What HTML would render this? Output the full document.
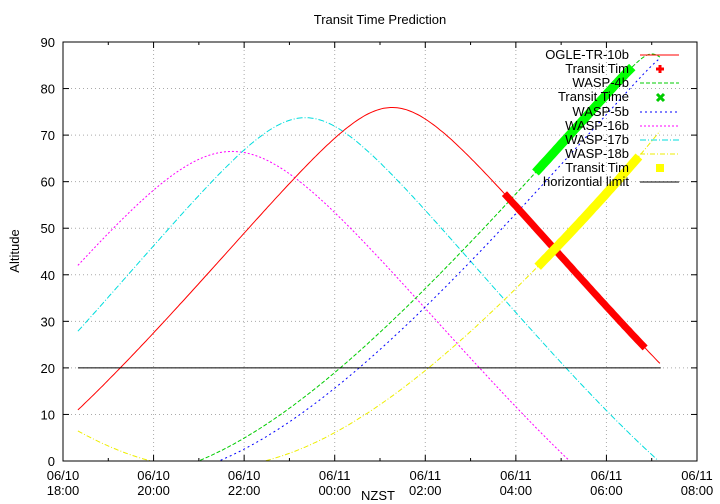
<!DOCTYPE html>
<html><head><meta charset="utf-8"><style>
html,body{margin:0;padding:0;background:#fff;}
svg{display:block;font-family:"Liberation Sans",sans-serif;}
</style></head><body>
<svg id="s" width="720" height="504" xmlns="http://www.w3.org/2000/svg">
<rect width="720" height="504" fill="#fff"/>
<text x="380" y="24" font-size="13" text-anchor="middle">Transit Time Prediction</text>
<text transform="translate(19,251) rotate(-90)" font-size="13" text-anchor="middle">Altitude</text>
<text x="378" y="500" font-size="13" text-anchor="middle">NZST</text>
<g id="g"></g>
</svg>
<script>
var X0=63,X1=697,Y0=461,Y1=42;
function px(h){return X0+(h-18)*(X1-X0)/14;}
function py(a){return Y0-a*(Y0-Y1)/90;}
var out='';
for(var i=1;i<7;i++){var x=px(18+2*i);out+='<line x1="'+x+'" y1="'+Y1+'" x2="'+x+'" y2="'+Y0+'" stroke="#aaa" stroke-width="1" stroke-dasharray="1,3"/>';}
for(var a=10;a<90;a+=10){var y=py(a);out+='<line x1="'+X0+'" y1="'+y+'" x2="'+X1+'" y2="'+y+'" stroke="#aaa" stroke-width="1" stroke-dasharray="1,3"/>';}
var hl=['18:00','20:00','22:00','00:00','02:00','04:00','06:00','08:00'];
var dl=['06/10','06/10','06/10','06/11','06/11','06/11','06/11','06/11'];
for(var i=0;i<8;i++){var x=px(18+2*i);
out+='<line x1="'+x+'" y1="'+Y0+'" x2="'+x+'" y2="'+(Y0-6)+'" stroke="#000"/><line x1="'+x+'" y1="'+Y1+'" x2="'+x+'" y2="'+(Y1+6)+'" stroke="#000"/>';
out+='<text x="'+x+'" y="480" font-size="13" text-anchor="middle">'+dl[i]+'</text><text x="'+x+'" y="495" font-size="13" text-anchor="middle">'+hl[i]+'</text>';
if(i<7){var xm=px(19+2*i);out+='<line x1="'+xm+'" y1="'+Y0+'" x2="'+xm+'" y2="'+(Y0-3)+'" stroke="#000"/><line x1="'+xm+'" y1="'+Y1+'" x2="'+xm+'" y2="'+(Y1+3)+'" stroke="#000"/>';}}
for(var a=0;a<=90;a+=10){var y=py(a);
out+='<line x1="'+X0+'" y1="'+y+'" x2="'+(X0+6)+'" y2="'+y+'" stroke="#000"/><line x1="'+X1+'" y1="'+y+'" x2="'+(X1-6)+'" y2="'+y+'" stroke="#000"/>';
out+='<text x="'+(X0-8)+'" y="'+(y+5)+'" font-size="13" text-anchor="end">'+a+'</text>';}
function alt(p,h){var v=p.a+p.b*Math.cos((h-p.h0)*15*Math.PI/180);v=Math.max(-1,Math.min(1,v));return Math.asin(v)*180/Math.PI;}
function curve(p,h0,h1,col,dash,w){var pts=[];for(var h=h0;h<=h1+1e-9;h+=0.05){var a=alt(p,h);if(a<0){if(pts.length>1)out+='<polyline points="'+pts.join(' ')+'" fill="none" stroke="'+col+'" stroke-width="'+w+'" stroke-dasharray="'+dash+'"/>';pts=[];continue;}pts.push(px(h).toFixed(1)+','+py(a).toFixed(1));}
if(pts.length>1)out+='<polyline points="'+pts.join(' ')+'" fill="none" stroke="'+col+'" stroke-width="'+w+'" stroke-dasharray="'+dash+'" stroke-linecap="'+(w>2?'square':'butt')+'"/>';}
var HS=18.33,HE=31.2;
var R={a:0.343,b:0.627,h0:25.27},C={a:0.30,b:0.66,h0:23.35},M={a:0.249,b:0.668,h0:21.73},
G={a:0.464,b:0.535,h0:31.0},B={a:0.462,b:0.537,h0:31.4},Yy={a:0.494,b:0.522,h0:33.2};
curve(M,HS,HE,'#f0f','2,2',1);
curve(C,HS,HE,'#0dd','6,2,1,2',1);
curve(R,HS,HE,'#f00','',1);
curve(G,HS,HE,'#0c0','4,2',1);
curve(B,HS,HE,'#00f','2,3',1);
curve(Yy,HS,HE,'#ee0','5,2,1,2',1);
curve(R,27.8,30.8,'#f00','',7);
curve(G,28.5,30.5,'#0f0','',9);
curve(Yy,28.55,30.65,'#ff0','',9);
out+='<line x1="'+px(HS)+'" y1="'+py(20)+'" x2="'+px(HE)+'" y2="'+py(20)+'" stroke="#000"/>';
out+='<rect x="'+X0+'" y="'+Y1+'" width="'+(X1-X0)+'" height="'+(Y0-Y1)+'" fill="none" stroke="#000"/>';
var L=[['OGLE-TR-10b','line','#f00',''],['Transit Tim','pt','#f00','+'],['WASP-4b','line','#0c0','4,2'],['Transit Time','pt','#0c0','x'],['WASP-5b','line','#00f','2,3'],['WASP-16b','line','#f0f','2,2'],['WASP-17b','line','#0dd','6,2,1,2'],['WASP-18b','line','#ee0','5,2,1,2'],['Transit Tim','pt','#ff0','s'],['horizontial limit','line','#000','']];
var ys=[55,69,83,97,112,126,140,154,168,182];
for(var i=0;i<L.length;i++){var y=ys[i];
out+='<text x="629" y="'+(y+4)+'" font-size="13" text-anchor="end">'+L[i][0]+'</text>';
if(L[i][1]=='line')out+='<line x1="640" y1="'+y+'" x2="679" y2="'+y+'" stroke="'+L[i][2]+'" stroke-dasharray="'+L[i][3]+'"/>';
else{var c=L[i][2],t=L[i][3];
if(t=='+')out+='<path d="M656 '+y+'h8M660 '+(y-4)+'v8" stroke="'+c+'" stroke-width="3"/>';
else if(t=='x')out+='<path d="M657 '+(y-3)+'l7 7M664 '+(y-3)+'l-7 7" stroke="'+c+'" stroke-width="3"/>';
else out+='<rect x="656" y="'+(y-4)+'" width="8" height="8" fill="'+c+'"/>';}}
document.getElementById('g').innerHTML=out;
</script>
</body></html>
